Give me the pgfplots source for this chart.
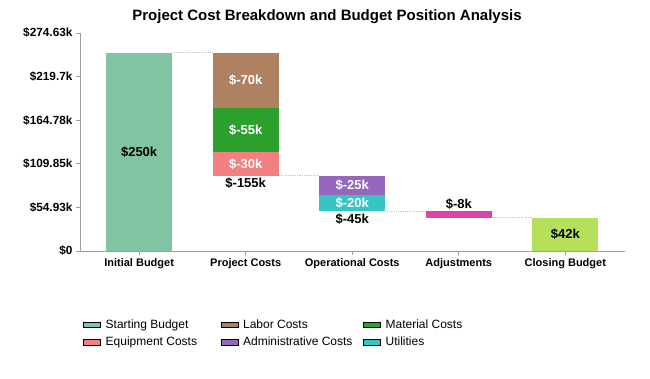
\documentclass[border=0pt]{standalone}
\usepackage{pgfplots}
\pgfplotsset{compat=1.18}
\usepackage{fontspec}
\setmainfont{Liberation Sans}
\definecolor{cStart}{HTML}{80C4A4}
\definecolor{cLabor}{HTML}{AE8260}
\definecolor{cMat}{HTML}{2CA02C}
\definecolor{cEquip}{HTML}{F28080}
\definecolor{cAdmin}{HTML}{9467BD}
\definecolor{cUtil}{HTML}{33C6C0}
\definecolor{cAdj}{HTML}{DD44AA}
\definecolor{cClose}{HTML}{B5E05C}
\newcommand{\lba}[1]{\makebox[113pt][l]{#1}}
\newcommand{\lbb}[1]{\makebox[118pt][l]{#1}}
\begin{document}
\begin{tikzpicture}
\useasboundingbox (-80pt,-127pt) rectangle (570pt,251pt);
\node[font=\bfseries\fontsize{15}{18}\selectfont] at (247pt,234pt) {Project Cost Breakdown and Budget Position Analysis};
\begin{axis}[
  scale only axis, width=545pt, height=218pt,
  xmin=-0.555, xmax=4.56, ymin=0, ymax=274.63,
  axis x line*=bottom, axis y line*=left,
  axis line style={draw=gray!75, line width=0.9pt},
  tick style={draw=gray!75, line width=0.9pt},
  tick align=outside, major tick length=4pt,
  xtick={0,1,2,3,4},
  xticklabels={Initial Budget,Project Costs,Operational Costs,Adjustments,Closing Budget},
  ytick={0,54.926,109.852,164.778,219.704,274.63},
  yticklabels={\$0,\$54.93k,\$109.85k,\$164.78k,\$219.7k,\$274.63k},
  ticklabel style={font=\bfseries\fontsize{11}{13}\selectfont},
  yticklabel style={font=\bfseries\fontsize{11.8}{13}\selectfont},
  clip=false,
  legend columns=3,
  legend style={at={(axis description cs:0,-0.295)}, anchor=north west, draw=none,
    font=\fontsize{12}{14}\selectfont, row sep=3.5pt,
    /tikz/every odd column/.append style={column sep=3pt}},
  legend cell align=left,
  legend image code/.code={\path[#1, draw=none] (0pt,-5pt) rectangle (20pt,5pt);},
]
% bars
\addplot[fill=cStart, draw=none, area legend] coordinates {(-0.31,0) (0.31,0) (0.31,250) (-0.31,250)} --cycle;
\addlegendentry{\lba{Starting Budget}}
\addplot[fill=cLabor, draw=none, area legend] coordinates {(0.69,180) (1.31,180) (1.31,250) (0.69,250)} --cycle;
\addlegendentry{\lbb{Labor Costs}}
\addplot[fill=cMat, draw=none, area legend] coordinates {(0.69,125) (1.31,125) (1.31,180) (0.69,180)} --cycle;
\addlegendentry{Material Costs}
\addplot[fill=cEquip, draw=none, area legend] coordinates {(0.69,95) (1.31,95) (1.31,125) (0.69,125)} --cycle;
\addlegendentry{\lba{Equipment Costs}}
\addplot[fill=cAdmin, draw=none, area legend] coordinates {(1.69,70) (2.31,70) (2.31,95) (1.69,95)} --cycle;
\addlegendentry{\lbb{Administrative Costs}}
\addplot[fill=cUtil, draw=none, area legend] coordinates {(1.69,50) (2.31,50) (2.31,70) (1.69,70)} --cycle;
\addlegendentry{Utilities}
\addplot[fill=cAdj, draw=none, forget plot] coordinates {(2.69,42) (3.31,42) (3.31,50) (2.69,50)} --cycle;
\addplot[fill=cClose, draw=none, forget plot] coordinates {(3.69,0) (4.31,0) (4.31,42) (3.69,42)} --cycle;
% connectors
\addplot[gray!45, densely dotted, line width=0.8pt, forget plot] coordinates {(0.31,250) (0.69,250)};
\addplot[gray!45, densely dotted, line width=0.8pt, forget plot] coordinates {(1.31,95) (1.69,95)};
\addplot[gray!45, densely dotted, line width=0.8pt, forget plot] coordinates {(2.31,50) (2.69,50)};
\addplot[gray!45, densely dotted, line width=0.8pt, forget plot] coordinates {(3.31,42) (3.69,42)};
% labels
\begin{scope}[every node/.style={font=\bfseries\fontsize{13}{15}\selectfont}]
\node at (axis cs:0,125) {\$250k};
\node[text=white] at (axis cs:1,215) {\$-70k};
\node[text=white] at (axis cs:1,152.5) {\$-55k};
\node[text=white] at (axis cs:1,110) {\$-30k};
\node at (axis cs:1,85) {\$-155k};
\node[text=white] at (axis cs:2,82.5) {\$-25k};
\node[text=white] at (axis cs:2,60) {\$-20k};
\node at (axis cs:2,40) {\$-45k};
\node at (axis cs:3,59) {\$-8k};
\node at (axis cs:4,21) {\$42k};
\end{scope}
\end{axis}
\end{tikzpicture}
\end{document}
